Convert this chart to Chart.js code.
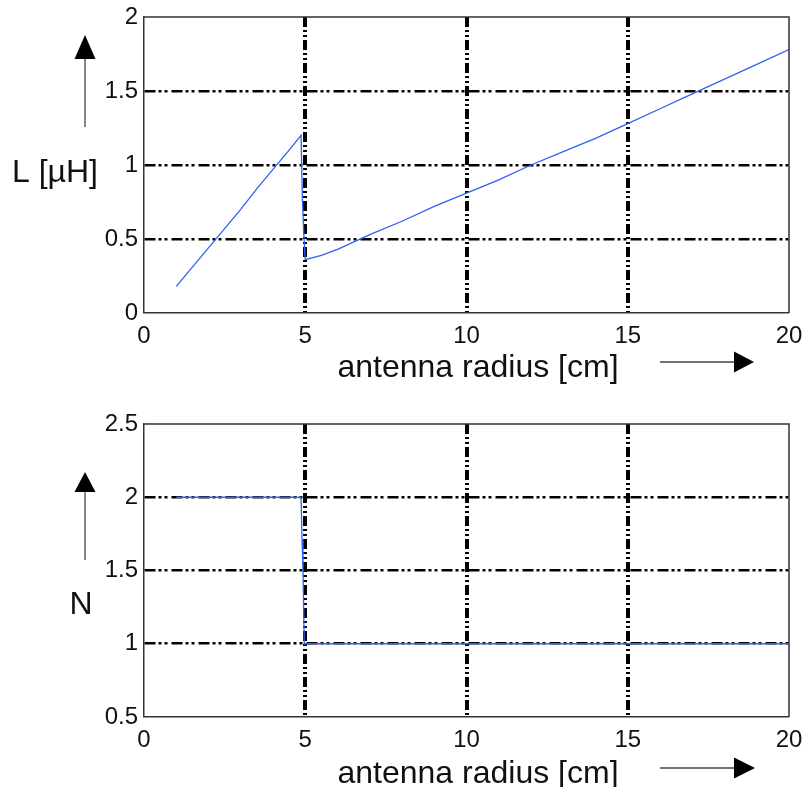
<!DOCTYPE html>
<html>
<head>
<meta charset="utf-8">
<script src="https://cdn.jsdelivr.net/npm/chart.js@4"></script>
<style>
  html, body { margin: 0; padding: 0; background: #fff; }
  canvas { display: block; }
</style>
</head>
<body>
<canvas id="chartL" width="803" height="393"></canvas>
<canvas id="chartN" width="803" height="394"></canvas>
<script>
// --- DATA ---
const radiusTicks = [0, 5, 10, 15, 20];

// inductance vs antenna radius
const radiusL = [1.0, 1.5, 2.0, 2.5, 3.0, 3.5, 4.0, 4.5, 4.87, 4.91, 4.95, 5.0,
                 5.5, 6.0, 7.0, 8.0, 9.0, 10.0, 11.0, 12.0, 13.0, 14.0, 15.0,
                 16.0, 17.0, 18.0, 19.0, 20.0];
const inductance = [0.18, 0.31, 0.44, 0.57, 0.70, 0.84, 0.97, 1.10, 1.20, 0.78, 0.56, 0.36,
                    0.39, 0.43, 0.53, 0.62, 0.72, 0.81, 0.90, 1.00, 1.09, 1.18, 1.28,
                    1.38, 1.48, 1.58, 1.68, 1.78];
const ticksL = [0, 0.5, 1, 1.5, 2];

// number of turns vs antenna radius
const radiusN = [1.0, 4.87, 4.9, 4.93, 4.97, 20.0];
const turns = [2, 2, 1.71, 1.5, 1.0, 1.0];
const ticksN = [0.5, 1, 1.5, 2, 2.5];

// --- STYLE ---
const FONT = 'Liberation Sans, Arial, sans-serif';
const LINE_BLUE = '#2f62f2';
const hDash = [11, 3, 3, 3, 3, 4];
const vDash = [10, 3, 2, 3, 2, 3];

function toPoints(xs, ys) {
    return xs.map((x, i) => ({ x: x, y: ys[i] }));
}

// frame, axis titles and the little direction arrows
const decorPlugin = {
    id: 'decor',
    afterDraw(chart, args, opts) {
        const ctx = chart.ctx;
        const a = chart.chartArea;
        ctx.save();

        // top + right frame lines
        ctx.strokeStyle = '#333';
        ctx.lineWidth = 1.5;
        ctx.beginPath();
        ctx.moveTo(a.left, a.top);
        ctx.lineTo(a.right, a.top);
        ctx.lineTo(a.right, a.bottom);
        ctx.stroke();

        // titles
        ctx.fillStyle = '#111';
        ctx.font = '32px ' + FONT;
        ctx.textBaseline = 'alphabetic';
        ctx.textAlign = 'center';
        ctx.fillText('antenna radius [cm]', opts.xTitle.x, opts.xTitle.y);
        ctx.fillText(opts.yTitle.text, opts.yTitle.x, opts.yTitle.y);

        // arrows
        ctx.strokeStyle = '#444';
        ctx.lineWidth = 1.3;
        const xa = opts.xArrow;
        ctx.beginPath();
        ctx.moveTo(xa.x0, xa.y);
        ctx.lineTo(xa.x1, xa.y);
        ctx.stroke();
        ctx.fillStyle = '#000';
        ctx.beginPath();
        ctx.moveTo(xa.x1 - 1, xa.y - 10.5);
        ctx.lineTo(xa.tip, xa.y);
        ctx.lineTo(xa.x1 - 1, xa.y + 10.5);
        ctx.closePath();
        ctx.fill();

        const ya = opts.yArrow;
        ctx.beginPath();
        ctx.moveTo(ya.x, ya.y0);
        ctx.lineTo(ya.x, ya.y1);
        ctx.stroke();
        ctx.beginPath();
        ctx.moveTo(ya.x - 10.5, ya.y1 + 1);
        ctx.lineTo(ya.x, ya.tip);
        ctx.lineTo(ya.x + 10.5, ya.y1 + 1);
        ctx.closePath();
        ctx.fill();

        ctx.restore();
    }
};

function makeChart(id, xs, ys, yTicks, heightBelow, padTop, decor) {
    const yMin = yTicks[0];
    const yMax = yTicks[yTicks.length - 1];
    return new Chart(document.getElementById(id), {
        type: 'line',
        data: {
            datasets: [{
                data: toPoints(xs, ys),
                borderColor: LINE_BLUE,
                borderWidth: 1.3,
                pointRadius: 0,
                tension: 0,
                fill: false
            }]
        },
        options: {
            responsive: false,
            animation: false,
            devicePixelRatio: 1,
            layout: { padding: { left: 0, right: 14, top: padTop, bottom: 0 } },
            plugins: {
                legend: { display: false },
                tooltip: { enabled: false },
                decor: decor
            },
            scales: {
                x: {
                    type: 'linear',
                    min: radiusTicks[0],
                    max: radiusTicks[radiusTicks.length - 1],
                    afterBuildTicks: (s) => { s.ticks = radiusTicks.map(v => ({ value: v })); },
                    afterFit: (s) => {
                        s.height = heightBelow;
                        s.paddingLeft = 0;
                        s.paddingRight = 0;
                    },
                    grid: {
                        drawTicks: false,
                        color: '#000',
                        lineWidth: (c) => (c.tick && (c.tick.value === radiusTicks[0] || c.tick.value === radiusTicks[radiusTicks.length - 1])) ? 0 : 4
                    },
                    border: { display: true, color: '#333', width: 1.5, dash: vDash },
                    ticks: {
                        color: '#111', padding: 9, maxRotation: 0,
                        font: { family: FONT, size: 24 },
                        callback: (v) => String(v)
                    }
                },
                y: {
                    type: 'linear',
                    min: yMin,
                    max: yMax,
                    afterBuildTicks: (s) => { s.ticks = yTicks.map(v => ({ value: v })); },
                    afterFit: (s) => {
                        s.width = 144;
                        s.paddingTop = 0;
                        s.paddingBottom = 0;
                    },
                    grid: {
                        drawTicks: false,
                        color: '#000',
                        lineWidth: (c) => (c.tick && (c.tick.value === yMin || c.tick.value === yMax)) ? 0 : 2.6
                    },
                    border: { display: true, color: '#333', width: 1.5, dash: hDash },
                    ticks: {
                        color: '#111', padding: 6,
                        font: { family: FONT, size: 24 },
                        callback: (v) => String(v)
                    }
                }
            }
        },
        plugins: [decorPlugin]
    });
}

makeChart('chartL', radiusL, inductance, ticksL, 80, 17, {
    xTitle: { x: 478, y: 377 },
    yTitle: { text: 'L [µH]', x: 55, y: 182 },
    xArrow: { x0: 660, x1: 735, tip: 754, y: 362 },
    yArrow: { x: 85, y0: 127, y1: 58, tip: 35 }
});

makeChart('chartN', radiusN, turns, ticksN, 70, 31, {
    xTitle: { x: 478, y: 390 },
    yTitle: { text: 'N', x: 81, y: 221 },
    xArrow: { x0: 660, x1: 735, tip: 755, y: 375 },
    yArrow: { x: 85, y0: 167, y1: 98, tip: 79 }
});
</script>
</body>
</html>
